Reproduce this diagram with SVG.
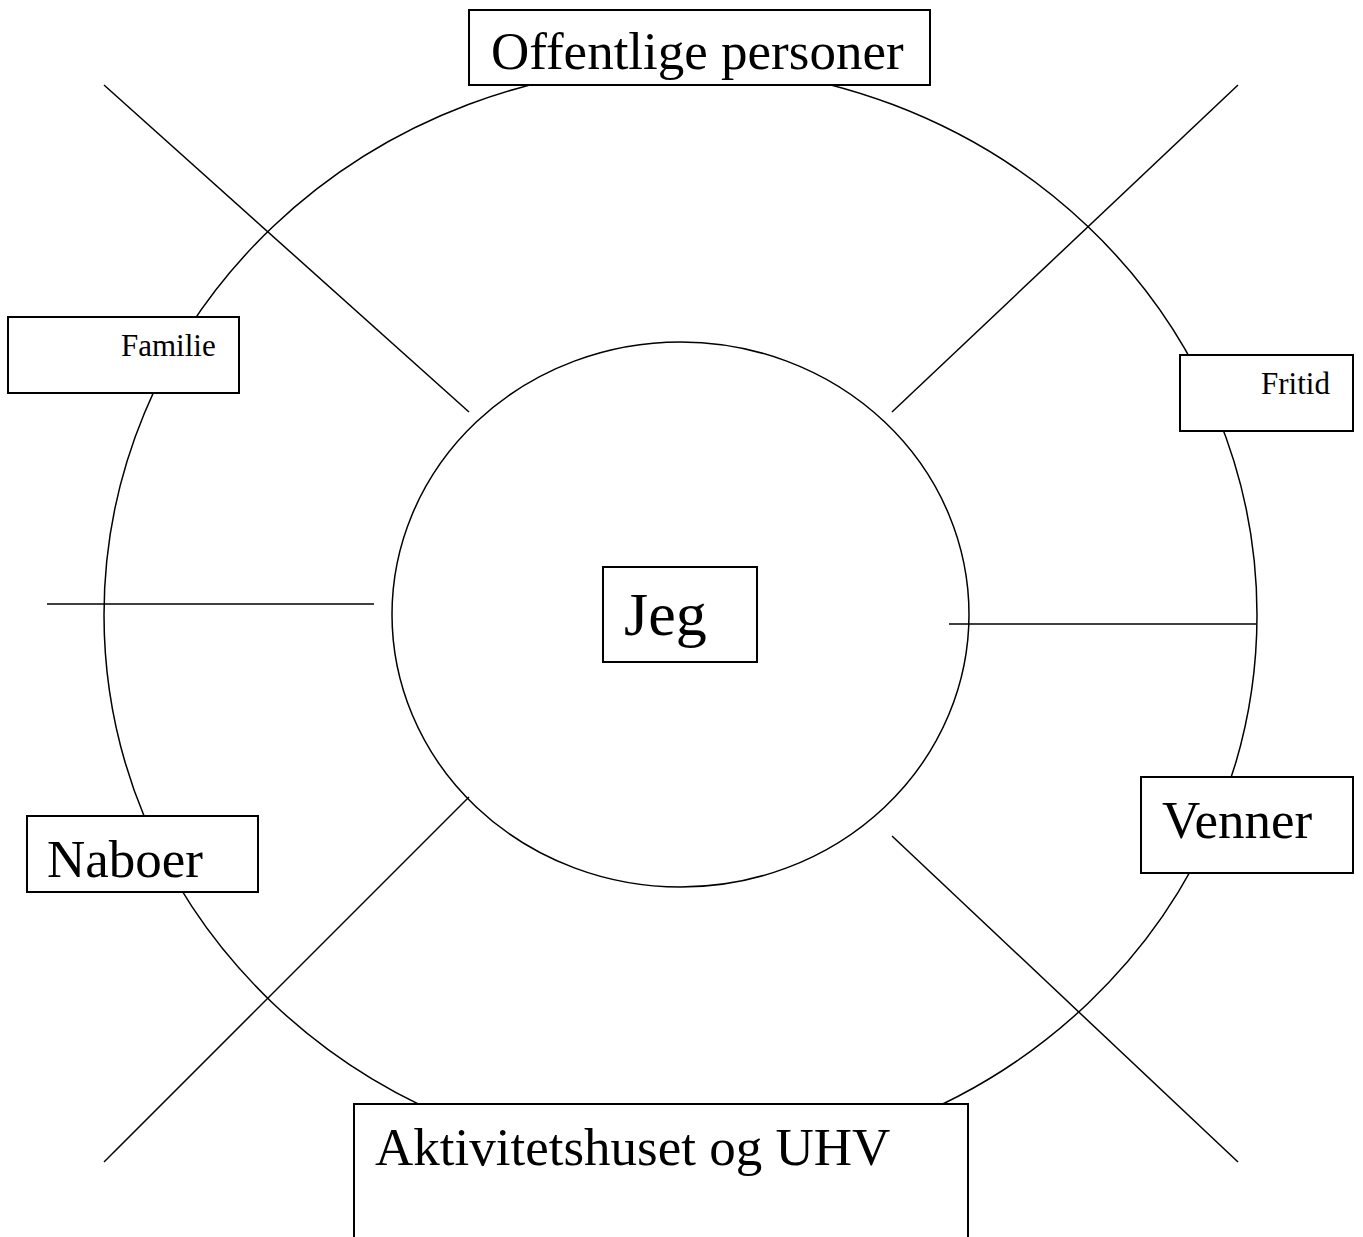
<svg xmlns="http://www.w3.org/2000/svg" width="1363" height="1237" viewBox="0 0 1363 1237">
<style>
.ring{fill:none;stroke:#000;stroke-width:1.5}
.ln{stroke:#000;stroke-width:1.5}
.box{fill:#fff;stroke:#000;stroke-width:2}
.t{font-family:"Liberation Serif","Times New Roman",serif;fill:#000}
.big{font-size:53px}
.sm{font-size:31px}
</style>
<rect width="1363" height="1237" fill="#fff"/>
<g id="rings">
<ellipse class="ring" cx="680.5" cy="615" rx="576.5" ry="549"/>
<ellipse class="ring" cx="680.5" cy="614.5" rx="288.5" ry="272.5"/>
</g>
<g id="connectors">
<line class="ln" x1="104" y1="85" x2="469" y2="412"/>
<line class="ln" x1="1238" y1="85" x2="892" y2="412"/>
<line class="ln" x1="47" y1="604" x2="374" y2="604"/>
<line class="ln" x1="949" y1="624" x2="1256" y2="624"/>
<line class="ln" x1="469" y1="797" x2="104" y2="1162"/>
<line class="ln" x1="892" y1="836" x2="1238" y2="1162"/>
</g>
<g id="offentlige">
<rect class="box" x="469" y="10" width="461" height="75"/>
<text class="t big" x="491" y="69">Offentlige personer</text>
</g>
<g id="familie">
<rect class="box" x="8" y="317" width="231" height="76"/>
<text class="t sm" x="121" y="356">Familie</text>
</g>
<g id="fritid">
<rect class="box" x="1180" y="355" width="173" height="76"/>
<text class="t sm" x="1261" y="394">Fritid</text>
</g>
<g id="jeg">
<rect class="box" x="603" y="567" width="154" height="95"/>
<text class="t" font-size="62" x="624" y="635">Jeg</text>
</g>
<g id="naboer">
<rect class="box" x="27" y="816" width="231" height="76"/>
<text class="t big" x="47" y="877">Naboer</text>
</g>
<g id="venner">
<rect class="box" x="1141" y="777" width="212" height="96"/>
<text class="t big" x="1162" y="838">Venner</text>
</g>
<g id="aktivitetshuset">
<rect class="box" x="354" y="1104" width="614" height="150"/>
<text class="t big" x="375" y="1165">Aktivitetshuset og UHV</text>
</g>
</svg>
